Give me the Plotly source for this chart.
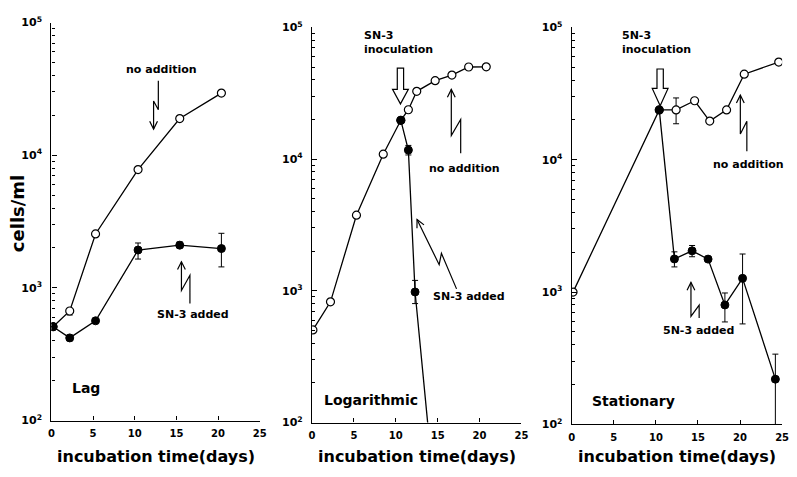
import math
import plotly.graph_objects as go

W, H = 797, 477

# ---------------- data ----------------
# Panel "Lag"
lag_days = [0.2, 2.2, 5.3, 10.4, 15.4, 20.4]
lag_no_add = [510, 670, 2550, 7800, 18900, 29400]
lag_no_add_err_plus = [None, None, None, None, None, None]
lag_no_add_err_minus = [None, 45, None, None, None, None]
lag_sn3 = [510, 420, 565, 1930, 2100, 1980]
lag_sn3_err_plus = [None, 20, None, 250, 120, 600]
lag_sn3_err_minus = [None, 20, None, 280, 90, 540]

# Panel "Logarithmic"
log_days_no_add = [0.1, 2.2, 5.3, 8.5, 10.6, 11.5, 12.5, 14.7, 16.7, 18.7, 20.8]
log_no_add = [505, 825, 3750, 10900, 19700, 23700, 32700, 39400, 43400, 50000, 50200]
log_days_sn3 = [10.6, 11.5, 12.3, 14.3]
log_sn3 = [19700, 11700, 980, 47]
log_sn3_err_plus = [None, 1000, 220, None]
log_sn3_err_minus = [None, 950, 180, None]

# Panel "Stationary"
sta_days_no_add = [0.15, 10.4, 12.4, 14.6, 16.4, 18.4, 20.5, 24.6]
sta_no_add = [1000, 23800, 23800, 27900, 19600, 23800, 44300, 54700]
sta_no_add_err_plus = [None, None, 5500, None, None, None, None, None]
sta_no_add_err_minus = [None, None, 5100, None, None, None, None, None]
sta_days_sn3 = [10.4, 12.2, 14.3, 16.2, 18.2, 20.3, 24.2]
sta_sn3 = [23800, 1780, 2050, 1775, 800, 1270, 220]
sta_sn3_err_plus = [None, 235, 200, None, 185, 670, 120]
sta_sn3_err_minus = [None, 230, 200, None, 205, 695, 120]

x_ticks = [0, 5, 10, 15, 20, 25]
x_tick_text = ["0", "5", "10", "15", "20", "25"]
y_ticks = [1e2, 1e3, 1e4, 1e5]
y_tick_text = ["10<sup>2</sup>", "10<sup>3</sup>", "10<sup>4</sup>", "10<sup>5</sup>"]
panel_names = ["Lag", "Logarithmic", "Stationary"]
x_title = "incubation time(days)"
y_title = "cells/ml"

# ---------------- layout helpers ----------------
FONT = "DejaVu Sans, Verdana, sans-serif"


def px(x):
    return x / W


def py(y):
    return 1 - y / H


# plot-area boxes in pixels: (left, right, top, bottom)
boxes = [(49, 260, 15, 426), (313, 525, 20, 428), (576, 789, 20, 430)]

fig = go.Figure()

open_marker = dict(symbol="circle", size=8, color="white", line=dict(color="black", width=1.2))
fill_marker = dict(symbol="circle", size=8, color="black", line=dict(color="black", width=1))
line_style = dict(color="black", width=1.3)


def err(plus, minus):
    return dict(type="data", symmetric=False, array=plus, arrayminus=minus,
                color="black", thickness=1, width=3)


series = [
    (1, lag_days, lag_no_add, lag_no_add_err_plus, lag_no_add_err_minus, open_marker, "no addition"),
    (1, lag_days, lag_sn3, lag_sn3_err_plus, lag_sn3_err_minus, fill_marker, "SN-3 added"),
    (2, log_days_no_add, log_no_add, None, None, open_marker, "no addition"),
    (2, log_days_sn3, log_sn3, log_sn3_err_plus, log_sn3_err_minus, fill_marker, "SN-3 added"),
    (3, sta_days_no_add, sta_no_add, sta_no_add_err_plus, sta_no_add_err_minus, open_marker, "no addition"),
    (3, sta_days_sn3, sta_sn3, sta_sn3_err_plus, sta_sn3_err_minus, fill_marker, "5N-3 added"),
]

for k, xs, ys, ep, em, mk, name in series:
    sfx = "" if k == 1 else str(k)
    tr = dict(x=xs, y=ys, mode="lines+markers", marker=mk, line=line_style,
              name=name, showlegend=False, xaxis="x" + sfx, yaxis="y" + sfx)
    if ep is not None:
        tr["error_y"] = err(ep, em)
    fig.add_trace(go.Scatter(**tr))

minor_vals = [m * 10 ** e for e in (2, 3, 4) for m in range(2, 10)]

layout = dict(width=W, height=H, margin=dict(l=0, r=0, t=0, b=0),
              paper_bgcolor="white", plot_bgcolor="white",
              font=dict(family=FONT, color="black"))

for i, (l, r, t, b) in enumerate(boxes):
    sfx = "" if i == 0 else str(i + 1)
    layout["xaxis" + sfx] = dict(
        domain=[px(l), px(r)], range=[0, 25], anchor="y" + sfx,
        tickvals=x_ticks, ticktext=x_tick_text,
        ticks="inside", ticklen=4, tickwidth=1, tickcolor="black",
        showline=True, linecolor="black", linewidth=1.3,
        showgrid=False, zeroline=False, ticklabelstandoff=3,
        tickfont=dict(size=10, family=FONT, color="black", weight="bold"))
    layout["yaxis" + sfx] = dict(
        domain=[py(b), py(t)], type="log", range=[2, 5], anchor="x" + sfx,
        tickvals=y_ticks, ticktext=y_tick_text,
        ticks="inside", ticklen=5, tickwidth=1, tickcolor="black",
        minor=dict(ticks="inside", ticklen=3, tickwidth=1, tickcolor="black", tickvals=minor_vals),
        showline=True, linecolor="black", linewidth=1.3,
        showgrid=False, zeroline=False, ticklabelstandoff=6,
        tickfont=dict(size=11, family=FONT, color="black", weight="bold"))

annotations = []


def text(x, y, s, size=11, bold=True, anchor="center", angle=0):
    annotations.append(dict(
        x=px(x), y=py(y), xref="paper", yref="paper", text=s,
        showarrow=False, xanchor=anchor, yanchor="middle", textangle=angle,
        font=dict(size=size, family=FONT, color="black", weight="bold" if bold else "normal")))


# axis titles
for (l, r, t, b) in boxes:
    text((l + r) / 2, 463, x_title, size=16)
text(15, 212, y_title, size=18, angle=-90)

# panel names
text(84, 392, panel_names[0], size=14)
text(373, 405, panel_names[1], size=14)
text(639, 406, panel_names[2], size=14)

# labels
text(161, 63, "no addition", size=11)
text(192, 316, "SN-3 added", size=11)
text(364, 28, "SN-3", size=11, anchor="left")
text(364, 43, "inoculation", size=11, anchor="left")
text(467, 166, "no addition", size=11)
text(472, 298, "SN-3 added", size=11)
text(625, 28, "5N-3", size=11, anchor="left")
text(625, 43, "inoculation", size=11, anchor="left")
text(755, 162, "no addition", size=11)
text(704, 333, "5N-3 added", size=11)

shapes = []


def path_str(pts, close=False):
    s = "M " + " L ".join(f"{px(x):.5f},{py(y):.5f}" for x, y in pts)
    return s + (" Z" if close else "")


def bolt(pts, head=9, ang=26):
    """polyline in pixel coords ending at the tip, with an open V arrow head"""
    shapes.append(dict(type="path", xref="paper", yref="paper", path=path_str(pts),
                       line=dict(color="black", width=1.2)))
    (x0, y0), (x1, y1) = pts[-2], pts[-1]
    d = math.hypot(x1 - x0, y1 - y0)
    ux, uy = (x1 - x0) / d, (y1 - y0) / d
    a = math.radians(ang)
    h1 = (x1 - head * (ux * math.cos(a) - uy * math.sin(a)), y1 - head * (uy * math.cos(a) + ux * math.sin(a)))
    h2 = (x1 - head * (ux * math.cos(a) + uy * math.sin(a)), y1 - head * (uy * math.cos(a) - ux * math.sin(a)))
    shapes.append(dict(type="path", xref="paper", yref="paper", path=path_str([h1, (x1, y1), h2]),
                       line=dict(color="black", width=1.2)))


def block_arrow(x, top, hb, tip, sw=3.2, hw=8):
    pts = [(x - sw, top), (x + sw, top), (x + sw, hb), (x + hw, hb), (x, tip), (x - hw, hb), (x - sw, hb)]
    shapes.append(dict(type="path", xref="paper", yref="paper", path=path_str(pts, True),
                       fillcolor="white", line=dict(color="black", width=1.2)))


bolt([(157.3, 75), (157.3, 105), (152.5, 96), (152.5, 125)])
bolt([(189.3, 305), (189.3, 276), (180.7, 291.7), (180.7, 262)])
bolt([(463.5, 150), (463.5, 115), (454, 131.7), (454, 84)])
bolt([(459.3, 290), (444, 253.3), (441.7, 265), (419.3, 218.3)])
bolt([(753.3, 148), (753.3, 117), (746.7, 130), (746.7, 90)])
bolt([(705, 320), (705, 306.7), (696.7, 318.3), (696.7, 283.3)])
block_arrow(402.5, 62, 84, 99)
block_arrow(665.5, 63, 83, 101)

layout["annotations"] = annotations
layout["shapes"] = shapes
fig.update_layout(**layout)

fig.write_html("out.html", config={"displayModeBar": False},
               post_script="document.body.style.margin='0';")
